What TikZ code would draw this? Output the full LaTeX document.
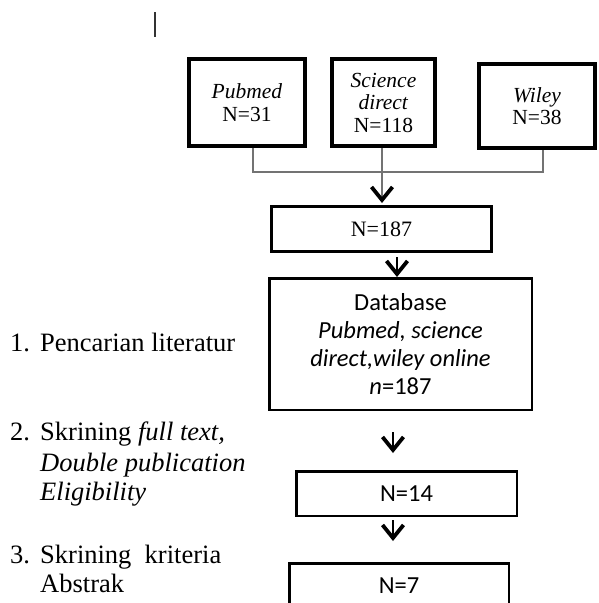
\documentclass[tikz,border=0pt]{standalone}
\usepackage{fontspec}
\setmainfont{Liberation Serif}
\newfontfamily\calib{Carlito}
\usetikzlibrary{arrows.meta}
\begin{document}
\begin{tikzpicture}[x=1pt,y=-1pt,
 tbox/.style={draw, line width=4pt, align=center, inner sep=0pt, font=\fontsize{21.5}{22.5}\selectfont},
 nbox/.style={draw, line width=3pt, align=center, inner sep=0pt, font=\fontsize{22}{22.5}\selectfont},
 cbox/.style={draw, line width=2.5pt, align=center, inner sep=0pt, font=\calib\fontsize{24.5}{28}\selectfont},
 lbl/.style={anchor=base west, inner sep=0pt, font=\fontsize{26.5}{30}\selectfont},
 gline/.style={draw=black!55, line width=1.5pt},
 tipped/.style={-{Straight Barb[length=13pt,width=21pt,line width=3.8pt,color=black]}, shorten >=2pt},
 arr/.style={line width=2.2pt, -{Straight Barb[length=13pt,width=21pt,line width=3.8pt]}}
]
\useasboundingbox (0,0) rectangle (598,603);
\clip (0,0) rectangle (598,603);

% text cursor mark
\coordinate (c1) at (155,12);
\coordinate (c2) at (155,37);
\draw[line width=1.5pt, black!80] (c1) -- (c2);

% source boxes
\node[tbox, minimum width=116, minimum height=87] (pub) at (247,102.5) {\textit{Pubmed}\\N=31};
\node[tbox, minimum width=103, minimum height=87] (sci) at (383.5,102.5) {\textit{Science}\\\textit{direct}\\N=118};
\node[tbox, minimum width=116, minimum height=84] (wil) at (537,106) {\textit{Wiley}\\N=38};

\node[nbox, minimum width=220, minimum height=45] (n187) at (381.5,229) {N=187};
\node[cbox, minimum width=262.5, minimum height=131.5] (db) at (400.5,344) {Database\\\textit{Pubmed, science}\\\textit{direct,wiley online}\\\textit{n}=187};
\node[cbox, minimum width=220.5, minimum height=44.5] (n14) at (406.5,493.5) {N=14};
\node[cbox, minimum width=219.5, minimum height=45.5] (n7) at (399,586) {N=7};

% connectors
\coordinate (j1) at (253,172);
\coordinate (j2) at (382,172);
\coordinate (j3) at (543,172);
\draw[gline] (pub.south -| j1) -- (j1) -- (j3) -- (wil.south -| j3);
\draw[gline, tipped] (sci.south -| j2) -- (n187.north -| j2);

\coordinate (a2) at (397,257);
\draw[arr] (a2) -- (db.north -| a2);
\coordinate (a3s) at (393,432);
\coordinate (a3e) at (393,453);
\draw[arr] (a3s) -- (a3e);
\coordinate (a4s) at (393,520);
\coordinate (a4e) at (393,541);
\draw[arr] (a4s) -- (a4e);

% left labels
\node[lbl] (l1) at (10,351) {1.};
\node[lbl] (l1t) at (40,351) {Pencarian literatur};
\node[lbl] (l2) at (10,440) {2.};
\node[lbl] (l2t) at (40,440) {Skrining \textit{full text,}};
\node[lbl] (l2b) at (40,471) {\textit{Double publication}};
\node[lbl] (l2c) at (40,500) {\textit{Eligibility}};
\node[lbl] (l3) at (10,563) {3.};
\node[lbl] (l3t) at (40,563) {Skrining\ \ kriteria};
\node[lbl] (l3b) at (40,592) {Abstrak};
\end{tikzpicture}
\end{document}
